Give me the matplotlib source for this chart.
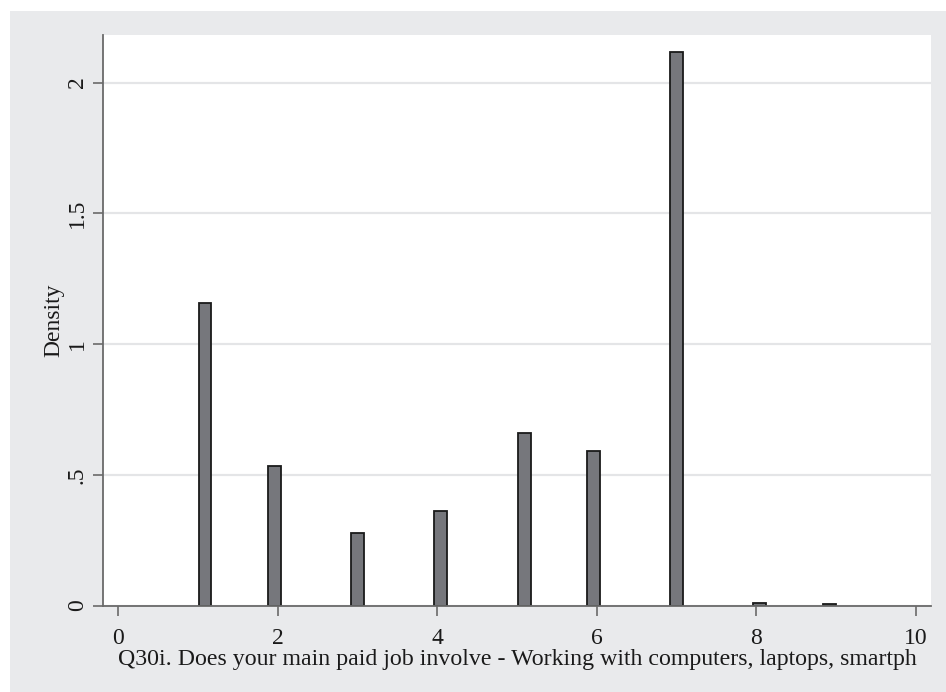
import numpy as np
import matplotlib
matplotlib.use("Agg")
import matplotlib.pyplot as plt
from matplotlib.patches import Rectangle

plt.rcParams["font.family"] = ["Liberation Serif", "DejaVu Serif"]

# Response codes and their histogram densities (46 equal bins from 1 to 9)
response_values = [1, 2, 3, 4, 5, 6, 7, 8, 9]
densities = [1.157, 0.535, 0.276, 0.362, 0.658, 0.592, 2.116, 0.010, 0.005]
n_bins = 46
x_ticks = [0, 2, 4, 6, 8, 10]
y_ticks = [0, 0.5, 1, 1.5, 2]
y_tick_labels = ["0", ".5", "1", "1.5", "2"]
x_label = "Q30i. Does your main paid job involve - Working with computers, laptops, smartph"
y_label = "Density"

W, H = 946, 692
fig = plt.figure(figsize=(W / 100, H / 100), dpi=100, facecolor="white")

# grey graph region behind the plot
fig.add_artist(Rectangle((10 / W, 0), 1 - 10 / W, (H - 11) / H,
                         transform=fig.transFigure, facecolor="#e9eaec",
                         edgecolor="none", zorder=-10))

ax = fig.add_axes([103 / W, (H - 605.5) / H, (931 - 103) / W, (605.5 - 35) / H])
ax.set_facecolor("white")

lo, hi = min(response_values), max(response_values)
width = (hi - lo) / n_bins
vals = np.asarray(response_values, dtype=float)
idx = np.minimum(np.floor((vals - lo) / width + 1e-9), n_bins - 1)
lefts = lo + idx * width

ax.bar(lefts + 0.006, densities, width=width - 0.012, align="edge", color="#76777c",
       edgecolor="#1a1a1a", linewidth=1.3, zorder=3)

ax.set_xlim(-0.192, 10.188)
ax.set_ylim(0, 2.182)

ax.set_xticks(x_ticks)
ax.set_xticklabels([str(t) for t in x_ticks])
ax.set_yticks(y_ticks)
ax.set_yticklabels(y_tick_labels, rotation=90, va="center")

ax.grid(axis="y", color="#e4e5e7", linewidth=1.6, zorder=0)
ax.set_axisbelow(True)

for side in ("top", "right"):
    ax.spines[side].set_visible(False)
for side in ("left", "bottom"):
    ax.spines[side].set_color("#6a6a6a")
    ax.spines[side].set_linewidth(1.3)
    ax.spines[side].set_zorder(4)

ax.tick_params(axis="both", direction="out", length=7, width=1.2,
               color="#6a6a6a", labelsize=17, labelcolor="#1a1a1a")
ax.tick_params(axis="x", pad=9.5)
ax.tick_params(axis="y", pad=4)

ax.set_xlabel(x_label, fontsize=17.2, color="#1a1a1a", labelpad=0)
ax.set_ylabel(y_label, fontsize=17, color="#1a1a1a", labelpad=1.5)

fig.savefig("out.png", dpi=100, facecolor="white")
